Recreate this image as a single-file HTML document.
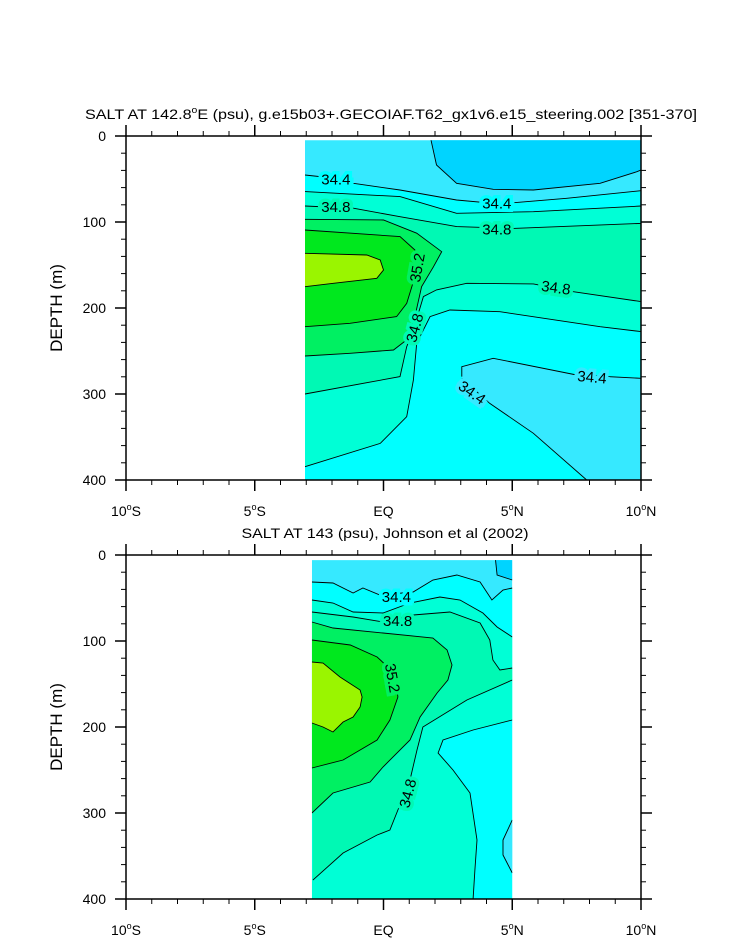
<!DOCTYPE html>
<html><head><meta charset="utf-8"><style>
html,body{margin:0;padding:0;background:#fff;}
svg{display:block;font-family:"Liberation Sans",Arial,sans-serif;}
</style></head><body>
<svg id="chart" width="733" height="945" viewBox="0 0 733 945"></svg>
<script>
// ===== data (lat in degrees, depth in m) =====
const bandLevels = [34.2, 34.4, 34.6, 34.8, 35.0, 35.2, 35.4];
const bandColors = ["#00d4ff", "#36e9ff", "#00ffff", "#00ffd6", "#00f9b4", "#00f062", "#00e81e", "#9af500"];
const xTickLats = [-10, -5, 0, 5, 10];
const xTickLabels = [["10", "S"], ["5", "S"], ["EQ", ""], ["5", "N"], ["10", "N"]];
const yTickDepths = [0, 100, 200, 300, 400];

// top panel contours
const tA = [[1.81,0],[2.06,33.7],[2.84,55],[4.26,62],[5.82,62.8],[8.41,55],[9.84,41.5],[10,39.5]];
const tB = [[-3.05,45.3],[-1.95,49],[-1.17,55],[0.64,62.8],[2.84,74.4],[4.52,79],[7.11,72.5],[10,63.6]];
const tC = [[-3.05,64.7],[0.64,70.5],[2.84,89.9],[5.82,88],[10,81.4]];
const tD = [[-3.05,81.4],[-1.17,84],[0.64,93.8],[2.84,105.4],[5.04,107.4],[10,101.6]];
const tE = [[-3.05,96.9],[0,97.7],[1.29,113],[2.26,134.5],[1.94,152],[1.48,175.2],[1.22,210],[0.9,237],[0.39,248.8],[-1.3,252.7],[-3.05,255.8]];
const tF = [[-3.05,109.3],[0.64,117],[1.22,132.6],[1.22,163.6],[0.9,194.6],[0.51,210],[-1.3,217.8],[-3.05,221.7]];
const tG = [[-3.05,136.4],[-0.65,138.4],[-0.13,144.2],[0,155.8],[-0.26,165.5],[-1.95,171.3],[-3.05,175.2]];
const tH = [[-3.05,300],[0.64,279.8],[0.9,245],[1.16,225.6],[1.55,186.8],[2.06,179],[3.23,171.3],[5.82,172],[7.37,181],[10,192.6]];
const tI = [[-3.05,384.5],[-0.13,357.4],[0.9,326.4],[1.16,283.7],[1.29,241],[1.81,210],[2.58,202.3],[4.52,204.3],[8.41,221.7],[10,227.5]];
const tJ = [[3.04,279.8],[3.04,268.2],[4.26,258.5],[7.5,277.9],[10,281.8]];
const tK = [[3.04,281.8],[4.13,310.9],[5.82,345.7],[7.89,400]];
// [text, lat, depth, rotation, halo band]
const topLabels = [["34.4",-1.85,50,0,2],["34.8",-1.85,82,0,4],["34.4",4.4,78,0,2],["34.8",4.4,108,0,4],["35.2",1.3,153,-80,5],["34.8",6.7,176,8,4],["34.8",1.2,223,-75,4],["34.4",8.1,280,5,1],["34.4",3.45,298,35,1]];

// bottom panel contours
const bBlob = [[4.33,0],[4.41,23.3],[5,29.1]];
const bB = [[-2.78,31.4],[-1.96,32.6],[-1.18,44.2],[-0.8,38.4],[-0.14,46.5],[1.15,43],[1.92,29.1],[2.85,23.3],[3.75,31.4],[4.21,52.3],[4.64,40.7],[5,38.4]];
const bC = [[-2.78,52.3],[-1.96,55.8],[-1.18,66.3],[-0.02,67.4],[1.03,55.8],[2.19,48.8],[2.97,52.3],[3.86,67.4],[4.41,83.7],[5,95.3]];
const bD = [[-2.78,66.3],[-1.18,72.1],[-0.02,77.9],[1.15,69.8],[2.58,66.3],[3.75,79.1],[4.13,98.8],[4.25,122.1],[4.52,133.7],[5,131.4]];
const bE = [[-2.78,77.9],[-1.96,84.9],[-0.02,90.7],[1.92,96.5],[2.47,110.5],[2.66,127.9],[2.5,145.3],[2.08,160.5],[1.42,188.4],[1.03,215.1],[-0.02,246.5],[-0.52,264],[-1.96,276.7],[-2.78,300]];
const bF = [[-2.78,98.8],[-1.29,104.7],[-0.25,118.6],[0.17,130.2],[0.45,141.9],[0.56,165.1],[0.25,191.9],[-0.25,215.1],[-1.57,238.4],[-2.78,247.7]];
const bG = [[-2.78,124.4],[-2.35,125.6],[-1.69,141.9],[-0.91,157],[-0.83,165.1],[-0.91,176.7],[-1.18,188.4],[-1.57,194.2],[-1.96,205.8],[-2.35,200],[-2.78,195.3]];
const bH = [[5,145.3],[3.24,168.6],[1.53,200],[1.3,226.7],[1.03,261.6],[0.56,296.5],[0.25,319.8],[-0.25,325.6],[-1.57,346.5],[-2.74,378]];
const bI = [[5,191.9],[3.48,203.5],[2.31,215.1],[2.12,230.2],[2.7,250],[3.36,276.7],[3.63,331.4],[3.55,366.3],[3.48,400]];
const bPocket = [[5,308],[4.64,331.4],[4.64,348.8],[5,369.8]];
const bottomLabels = [["34.4",0.5,48,0,2],["34.8",0.55,76,0,4],["35.2",0.36,143,80,5],["34.8",0.93,277,-75,4]];

// ===== rendering =====
const NS = "http://www.w3.org/2000/svg";
const svg = document.getElementById("chart");
const X0 = 126, X1 = 641, PLOT_H = 344;
const xs = lat => X0 + (lat + 10) * (X1 - X0) / 20;
function mk(tag, attrs, parent) {
  const e = document.createElementNS(NS, tag);
  for (const k in attrs) e.setAttribute(k, attrs[k]);
  (parent || svg).appendChild(e);
  return e;
}
function build(parts) {
  let pts = [];
  parts.forEach(p => {
    if (p.rev) pts = pts.concat(p.rev.slice().reverse());
    else if (Array.isArray(p[0])) pts = pts.concat(p);
    else pts.push(p);
  });
  return pts;
}
function drawPanel(id, top, title, x0lat, x1lat, d0, regions, lines, labels) {
  const ys = d => top + d * PLOT_H / 400;
  const g = mk("g", {}, svg);
  
  
  const cp = mk("clipPath", {id: id + "-clip"}, g);
  mk("rect", {x: xs(x0lat), y: ys(d0), width: xs(x1lat) - xs(x0lat), height: ys(400) - ys(d0)}, cp);
  const dg = mk("g", {"clip-path": "url(#" + id + "-clip)"}, g);
  
  
  regions.forEach(r => {
    const pts = build(r.parts);
    const poly = mk("polygon", {points: pts.map(p => xs(p[0]).toFixed(1) + "," + ys(p[1]).toFixed(1)).join(" "), fill: bandColors[r.band]}, dg);
    
    
  });
  lines.forEach(l => {
    const pl = mk("polyline", {points: l.map(p => xs(p[0]).toFixed(1) + "," + ys(p[1]).toFixed(1)).join(" "), fill: "none", stroke: "#000", "stroke-width": "0.9"}, dg);
    
    
  });
  labels.forEach(lb => {
    const x = xs(lb[1]), y = ys(lb[2]);
    const t = mk("text", {x: x, y: y + 5.5, "text-anchor": "middle", "font-size": "15", transform: "rotate(" + lb[3] + " " + x + " " + y + ")", stroke: bandColors[lb[4]], "stroke-width": "7", "paint-order": "stroke", fill: "#000"}, dg);
    t.textContent = lb[0];
    
    
  });
  const fr = mk("rect", {x: X0, y: top, width: X1 - X0, height: PLOT_H, fill: "none", stroke: "#000", "stroke-width": "1.5"}, g);
  
  
  for (let lat = -10; lat <= 10; lat++) {
    const major = lat % 5 === 0, L = major ? 11 : 5, x = xs(lat);
    mk("line", {x1: x, x2: x, y1: top + PLOT_H, y2: top + PLOT_H + L, stroke: "#000", "stroke-width": major ? 1.5 : 1}, g);
    mk("line", {x1: x, x2: x, y1: top, y2: top - L, stroke: "#000", "stroke-width": major ? 1.5 : 1}, g);
  }
  for (let d = 0; d <= 400; d += 20) {
    const major = d % 100 === 0, L = major ? 11 : 5, y = ys(d);
    mk("line", {x1: X0, x2: X0 - L, y1: y, y2: y, stroke: "#000", "stroke-width": major ? 1.5 : 1}, g);
    mk("line", {x1: X1, x2: X1 + L, y1: y, y2: y, stroke: "#000", "stroke-width": major ? 1.5 : 1}, g);
  }
  xTickLats.forEach((lat, i) => {
    const t = mk("text", {x: xs(lat), y: top + PLOT_H + 36, "text-anchor": "middle", "font-size": "14"}, g);
    const lab = xTickLabels[i];
    if (lab[1]) {
      t.innerHTML = lab[0] + '<tspan font-size="9" dy="-6">o</tspan><tspan dy="6">' + lab[1] + '</tspan>';
    } else t.textContent = lab[0];
    
    
  });
  yTickDepths.forEach(d => {
    const t = mk("text", {x: 106, y: ys(d) + 5, "text-anchor": "end", "font-size": "14"}, g);
    t.textContent = d;
    
    
  });
  const yt = mk("text", {x: 62, y: top + PLOT_H / 2, "text-anchor": "middle", "font-size": "17", transform: "rotate(-90 62 " + (top + PLOT_H / 2) + ")"}, g);
  yt.textContent = "DEPTH (m)";
  
  
  const tt = mk("text", {x: title[1], y: top - 17, "text-anchor": "middle", "font-size": "14", textLength: title[2], lengthAdjust: "spacingAndGlyphs"}, g);
  tt.innerHTML = title[0];
  
  
}

drawPanel("top", 136,
  ['SALT AT 142.8<tspan font-size="9" dy="-6">o</tspan><tspan dy="6">E (psu), g.e15b03+.GECOIAF.T62_gx1v6.e15_steering.002 [351-370]</tspan>', 391, 612],
  -3.05, 10, 5,
  [
    {band: 1, parts: [[-3.05,0],[10,0],[10,400],[-3.05,400]]},
    {band: 0, parts: [tA, [10,0]]},
    {band: 2, parts: [tB, {rev: tJ}, tK, [-3.05,400]]},
    {band: 3, parts: [tC, {rev: tI}]},
    {band: 4, parts: [tD, {rev: tH}]},
    {band: 5, parts: [tE]},
    {band: 6, parts: [tF]},
    {band: 7, parts: [tG]}
  ],
  [tA, tB, tC, tD, tE, tF, tG, tH, tI, tJ, tK], topLabels);

drawPanel("bottom", 555,
  ['SALT AT 143 (psu), Johnson et al (2002)', 385, 287],
  -2.78, 5, 6,
  [
    {band: 1, parts: [[-2.78,0],[5,0],[5,400],[-2.78,400]]},
    {band: 0, parts: [bBlob, [5,0]]},
    {band: 2, parts: [bB, [5,400],[-2.78,400]]},
    {band: 3, parts: [bC, bI, [-2.78,400]]},
    {band: 1, parts: [bPocket]},
    {band: 4, parts: [bD, bH]},
    {band: 5, parts: [bE]},
    {band: 6, parts: [bF]},
    {band: 7, parts: [bG]}
  ],
  [bBlob, bB, bC, bD, bE, bF, bG, bH, bI, bPocket], bottomLabels);
</script>
</body></html>
